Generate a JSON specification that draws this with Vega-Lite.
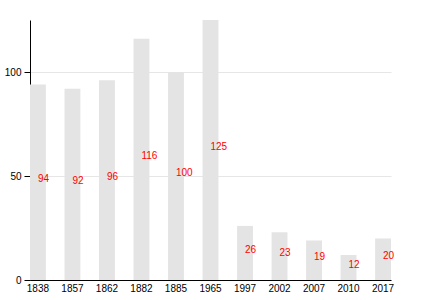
{
  "$schema": "https://vega.github.io/schema/vega-lite/v6.json",
  "width": 361,
  "height": 260,
  "autosize": {"type": "none"},
  "padding": {"left": 30, "top": 20, "right": 39, "bottom": 20},
  "background": "white",
  "config": {
    "view": {"stroke": null},
    "font": "Liberation Sans",
    "axis": {"labelFont": "Liberation Sans", "labelFontSize": 10, "labelColor": "#000", "domainColor": "#000", "tickColor": "#000", "title": null}
  },
  "data": {"values": [
    {"year": "1838", "value": 94},
    {"year": "1857", "value": 92},
    {"year": "1862", "value": 96},
    {"year": "1882", "value": 116},
    {"year": "1885", "value": 100},
    {"year": "1965", "value": 125},
    {"year": "1997", "value": 26},
    {"year": "2002", "value": 23},
    {"year": "2007", "value": 19},
    {"year": "2010", "value": 12},
    {"year": "2017", "value": 20}
  ]},
  "layer": [
    {
      "mark": {"type": "bar", "color": "#e4e4e4"},
      "encoding": {
        "x": {"field": "year", "type": "nominal", "sort": null,
              "scale": {"paddingInner": 0.54, "paddingOuter": 0},
              "axis": {"labelAngle": 0, "ticks": false, "labelPadding": 3, "domainWidth": 1}},
        "y": {"field": "value", "type": "quantitative",
              "scale": {"domain": [0, 125], "nice": false},
              "axis": {"values": [0, 50, 100], "tickSize": 6, "labelPadding": 3, "gridColor": "#e6e6e6", "grid": true, "domainWidth": 1}}
      }
    },
    {
      "mark": {"type": "text", "align": "left", "baseline": "alphabetic", "color": "#ff0000", "fontSize": 10, "font": "Liberation Sans"},
      "encoding": {
        "x": {"field": "year", "type": "nominal", "sort": null},
        "y": {"field": "value", "type": "quantitative",
              "scale": {"domain": [0, 250], "nice": false}, "axis": null},
        "text": {"field": "value", "type": "quantitative"}
      }
    }
  ],
  "resolve": {"scale": {"y": "independent"}}
}
